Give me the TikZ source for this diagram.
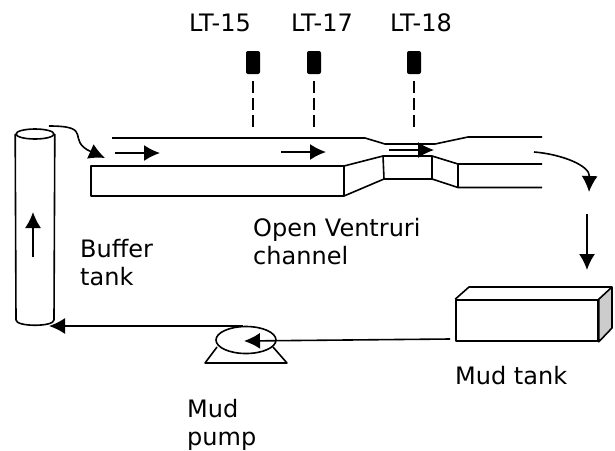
\documentclass[tikz,border=0pt]{standalone}
\usepackage{fontspec}
\setmainfont{DejaVu Sans}
\usetikzlibrary{shapes.geometric, arrows.meta, positioning}
\tikzstyle{wall} = [line width=1.6pt, line join=round]
\tikzstyle{arrow} = [line width=1.6pt, -{Latex[length=16pt,width=16pt]}]
\tikzstyle{signal} = [line width=1.6pt, dash pattern=on 12pt off 5pt, shorten <=7pt]
\tikzstyle{sensor} = [rectangle, rounded corners=2pt, fill=black, minimum width=14pt, minimum height=23pt, inner sep=0pt]
\tikzstyle{lbl} = [font=\fontsize{24}{28}\selectfont, align=left, anchor=west, inner sep=0pt]
\begin{document}
\begin{tikzpicture}[x=1pt, y=-1pt]
    \useasboundingbox (0,0) rectangle (615,450);

    % Level transmitters
    \node (lt15) [sensor] at (253,62.5) {};
    \node (lt17) [sensor] at (314,62.5) {};
    \node (lt18) [sensor] at (414,62.5) {};
    \node [lbl, anchor=center] at (220,23) {LT-15};
    \node [lbl, anchor=center] at (322,23) {LT-17};
    \node [lbl, anchor=center] at (421,23) {LT-18};
    \coordinate (tap15) at (253,129);
    \coordinate (tap17) at (314,129);
    \coordinate (tap18) at (414,129);
    \draw [signal] (lt15) -- (tap15);
    \draw [signal] (lt17) -- (tap17);
    \draw [signal] (lt18) -- (tap18);

    % Channel
    \draw [wall] (112,138) -- (365,138) -- (385,144) -- (435,144) -- (468,137) -- (542,137);
    \draw [wall] (91,166) rectangle (344,196);
    \draw [wall] (344,166) -- (383,156) -- (432,156) -- (458,164) -- (542,164);
    \draw [wall] (344,196) -- (384,179) -- (432,179) -- (458,187.5) -- (542,187.5);
    \draw [wall] (383,156) -- (384,179);
    \draw [wall] (432,156) -- (432,179);
    \draw [wall] (458,164) -- (458,187.5);

    % Buffer tank
    \node (buffertop) [draw, ellipse, wall, minimum width=38pt, minimum height=10pt, inner sep=0pt] at (35,134) {};
    \draw [wall] (buffertop.west) -- (16,320) .. controls (16,327) and (54,327) .. (54,320) -- (buffertop.east);
    \coordinate (upstart) at (33,257);
    \coordinate (upend) at (33,212);
    \draw [arrow] (upstart) -- (upend);

    % Mud tank
    \node (mudtank) [draw, wall, rectangle, minimum width=142pt, minimum height=41pt, inner sep=0pt] at (527,320.5) {};
    \draw [wall, fill=black!20] (mudtank.north east) -- (612,287) -- (612,328) -- (mudtank.south east) -- cycle;
    \draw [wall] (mudtank.north west) -- (469,287) -- (612,287);

    % Mud pump
    \node (pump) [draw, wall, ellipse, minimum width=60pt, minimum height=27pt, inner sep=0pt] at (246,340) {};
    \draw [wall] (217,347) -- (205,363) -- (287,363) -- (273,347);

    % Flow arrows
    \coordinate (a1s) at (115,153);
    \coordinate (a1e) at (160,153);
    \coordinate (a2s) at (281,152);
    \coordinate (a2e) at (326,152);
    \coordinate (a3s) at (389,150);
    \coordinate (a3e) at (434,150);
    \draw [arrow] (a1s) -- (a1e);
    \draw [arrow] (a2s) -- (a2e);
    \draw [arrow] (a3s) -- (a3e);
    \coordinate (outs) at (534,152);
    \coordinate (oute) at (589,192);
    \draw [arrow] (outs) .. controls (560,154) and (590,165) .. (oute);
    \coordinate (downs) at (587,214);
    \coordinate (downe) at (587,270);
    \draw [arrow] (downs) -- (downe);
    \coordinate (ins) at (49,126);
    \coordinate (ine) at (105,158);
    \draw [arrow] (ins) .. controls (95,126) and (65,140) .. (ine);
    \coordinate (pumpin) at (244,341);
    \coordinate (tankout) at (450,339);
    \draw [arrow] (tankout) -- (pumpin);
    \coordinate (pumpout) at (243,326);
    \coordinate (bufin) at (49,326);
    \draw [arrow] (pumpout) -- (bufin);

    % Labels
    \node (ventlabel) [lbl] at (253,242) {Open Ventruri\\channel};
    \node (buflabel) [lbl] at (80,263) {Buffer\\tank};
    \node (mudlabel) [lbl] at (455,376) {Mud tank};
    \node (pumplabel) [lbl] at (187,425) {Mud\\pump};
\end{tikzpicture}
\end{document}
